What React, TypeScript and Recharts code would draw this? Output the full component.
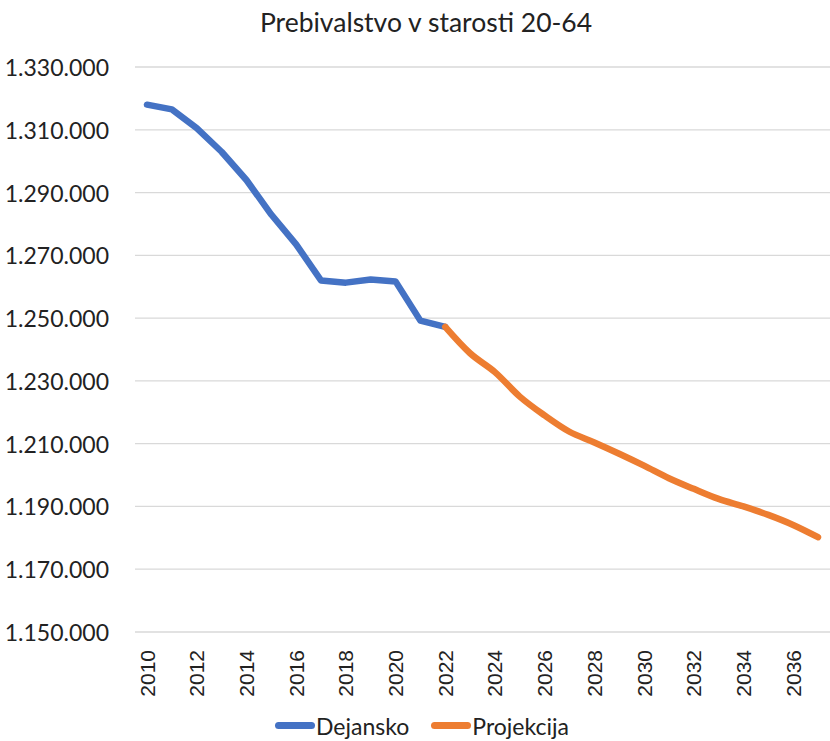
import { LineChart, Line, XAxis, YAxis, CartesianGrid, Legend } from "recharts";

const years = [
  "2010", "2011", "2012", "2013", "2014", "2015", "2016", "2017", "2018", "2019",
  "2020", "2021", "2022", "2023", "2024", "2025", "2026", "2027", "2028", "2029",
  "2030", "2031", "2032", "2033", "2034", "2035", "2036", "2037",
];

// actual values 2010-2022
const dejansko = [
  1318000, 1316500, 1310500, 1303000, 1294000, 1283000, 1273500, 1262000,
  1261300, 1262300, 1261700, 1249200, 1247200,
];

// projection 2022-2037
const projekcija = [
  1247200, 1238800, 1232800, 1225000, 1219000, 1213800, 1210400, 1206800,
  1203000, 1199000, 1195600, 1192400, 1190000, 1187300, 1184100, 1180200,
];

const yTicks = [
  1150000, 1170000, 1190000, 1210000, 1230000, 1250000, 1270000, 1290000,
  1310000, 1330000,
];

const projStart = years.indexOf("2022");

const data = years.map((y, i) => ({
  year: y,
  dejansko: i < dejansko.length ? dejansko[i] : null,
  projekcija: i >= projStart ? projekcija[i - projStart] : null,
}));

const fmt = (v: number) => v.toString().replace(/\B(?=(\d{3})+(?!\d))/g, ".");

const YTick = ({ x, y, payload }: any) => (
  <text
    x={x - 24}
    y={y}
    textAnchor="end"
    dominantBaseline="central"
    fontFamily="Lato"
    fontSize={23}
    fill="#222"
  >
    {fmt(payload.value)}
  </text>
);

const XTick = ({ x, y, payload }: any) => (
  <text
    x={x}
    y={y + 16}
    transform={`rotate(-90, ${x}, ${y + 16})`}
    textAnchor="end"
    dominantBaseline="central"
    fontFamily="Liberation Sans"
    fontSize={21}
    fill="#222"
  >
    {payload.value}
  </text>
);

const legendItems = [
  { name: "Dejansko", color: "#4472C4" },
  { name: "Projekcija", color: "#ED7D31" },
];

const LegendBox = () => (
  <div
    style={{
      height: 31,
      display: "flex",
      justifyContent: "center",
      alignItems: "center",
      fontFamily: "Lato",
      fontSize: 23,
      color: "#222",
      paddingLeft: 14,
    }}
  >
    {legendItems.map((it, i) => (
      <div key={it.name} style={{ display: "flex", alignItems: "center", marginLeft: i ? 22 : 0 }}>
        <span
          style={{
            display: "inline-block",
            width: 40,
            height: 7,
            borderRadius: 4,
            background: it.color,
            marginRight: 1,
          }}
        />
        {it.name}
      </div>
    ))}
  </div>
);

export default function App() {
  return (
    <div style={{ position: "absolute", left: 0, top: 0, width: 830, height: 741, background: "#fff" }}>
      <div
        style={{
          position: "absolute",
          top: 6,
          left: 0,
          width: 852,
          textAlign: "center",
          fontFamily: "Lato",
          fontSize: 26.5,
          color: "#222",
          zIndex: 1,
        }}
      >
        Prebivalstvo v starosti 20-64
      </div>
      <LineChart width={830} height={741} data={data} margin={{ top: 67, right: 0, bottom: 0, left: 0 }}>
        <CartesianGrid vertical={false} stroke="#d9d9d9" strokeWidth={1.3} />
        <XAxis
          dataKey="year"
          interval={1}
          axisLine={false}
          tickLine={false}
          tickSize={0}
          height={78}
          padding={{ left: 12, right: 12 }}
          tick={<XTick />}
        />
        <YAxis
          width={135}
          domain={[1150000, 1330000]}
          ticks={yTicks}
          axisLine={false}
          tickLine={false}
          tickSize={0}
          tick={<YTick />}
        />
        <Legend verticalAlign="bottom" content={<LegendBox />} />
        <Line
          type="linear"
          dataKey="dejansko"
          stroke="#4472C4"
          strokeWidth={6.5}
          strokeLinecap="round"
          strokeLinejoin="round"
          dot={false}
          connectNulls={false}
          isAnimationActive={false}
        />
        <Line
          type="monotone"
          dataKey="projekcija"
          stroke="#ED7D31"
          strokeWidth={6.5}
          strokeLinecap="round"
          strokeLinejoin="round"
          dot={false}
          isAnimationActive={false}
        />
      </LineChart>
    </div>
  );
}
